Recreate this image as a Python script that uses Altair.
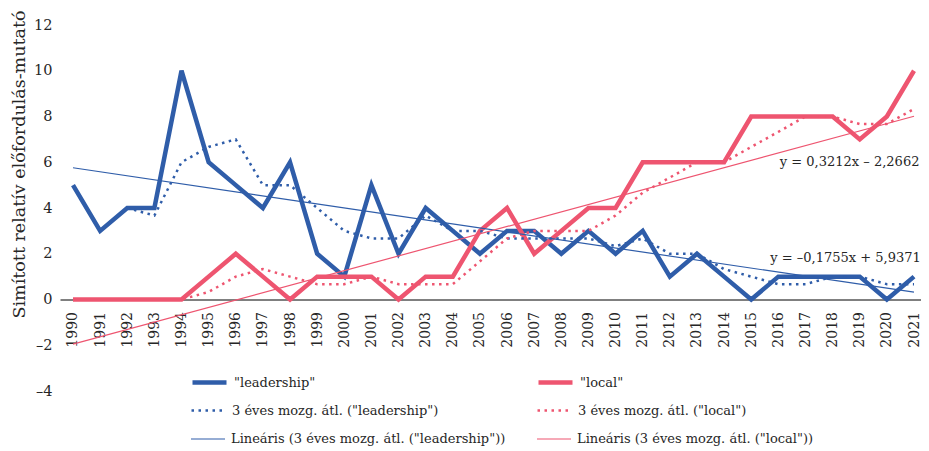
import altair as alt
import pandas as pd

years = list(range(1990, 2022))
ma_years = list(range(1992, 2022))
trend_years = [1990, 2021]

leadership = [5, 3, 4, 4, 10, 6, 5, 4, 6, 2, 1, 5, 2, 4, 3, 2, 3, 3, 2, 3, 2, 3, 1, 2, 1, 0, 1, 1, 1, 1, 0, 1]
local = [0, 0, 0, 0, 0, 1, 2, 1, 0, 1, 1, 1, 0, 1, 1, 3, 4, 2, 3, 4, 4, 6, 6, 6, 6, 8, 8, 8, 8, 7, 8, 10]

leadership_ma = [4, 3.67, 6, 6.67, 7, 5, 5, 4, 3, 2.67, 2.67, 3.67, 3, 3, 2.67, 2.67, 2.67, 2.67, 2.33, 2.67,
                 2, 2, 1.33, 1, 0.67, 0.67, 1, 1, 0.67, 0.67]
local_ma = [0, 0, 0, 0.33, 1, 1.33, 1, 0.67, 0.67, 1, 0.67, 0.67, 0.67, 1.67, 2.67, 3, 3, 3, 3.67, 4.67,
            5.33, 6, 6, 6.67, 7.33, 8, 8, 7.67, 7.67, 8.33]

leadership_trend = [5.76, 0.32]
local_trend = [-1.95, 8.01]

series_names = [
    '"leadership"',
    '"local"',
    '3 éves mozg. átl. ("leadership")',
    '3 éves mozg. átl. ("local")',
    'Lineáris (3 éves mozg. átl. ("leadership"))',
    'Lineáris (3 éves mozg. átl. ("local"))',
]
BLUE = "#2F5DA9"
RED = "#EE5570"
series_colors = [BLUE, RED, BLUE, RED, BLUE, RED]
series_dashes = [None, None, [2.5, 4.5], [2.5, 4.5], None, None]
series_widths = [4.5, 4.5, 2.5, 2.5, 1.2, 1.2]

# legend slot (column, row) for each series
legend_col = [0, 1, 0, 1, 0, 1]
legend_row = [0, 0, 1, 1, 2, 2]

eq_text = ["y = 0,3212x – 2,2662", "y = –0,1755x + 5,9371"]
eq_x = [2021.2, 2021.25]
eq_y = [6.0, 1.8]

y_ticks = [-4, -2, 0, 2, 4, 6, 8, 10, 12]

FONT = "DejaVu Serif"
TXT = "#262626"

x_scale = alt.Scale(domain=[1989.521, 2021.258], nice=False, zero=False)
y_scale = alt.Scale(domain=[-4, 12], nice=False, zero=False)

x_axis = alt.Axis(
    values=years, format="d", title=None, orient="bottom", offset=-91.5,
    labelAngle=270, labelAlign="right", labelBaseline="middle", labelPadding=12,
    ticks=False, grid=False, domainColor="#000000", domainWidth=1,
    labelFont=FONT, labelFontSize=14, labelColor=TXT, labelOverlap=False,
    labelFlush=False, labelBound=False, tickCount=32,
)
y_axis = alt.Axis(
    values=y_ticks, title="Simított relatív előfordulás-mutató",
    labelExpr="datum.value < 0 ? '–' + abs(datum.value) : datum.label",
    ticks=False, grid=False, domain=False, labelPadding=8,
    labelFont=FONT, labelFontSize=14.5, labelColor=TXT,
    titleFont=FONT, titleFontSize=17.5, titleFontWeight="normal", titleColor=TXT,
    titleX=-41, titleY=139, titleAngle=270, titleAlign="center", titleBaseline="middle",
)

series_x = [years, years, ma_years, ma_years, trend_years, trend_years]
series_y = [leadership, local, leadership_ma, local_ma, leadership_trend, local_trend]

LEG_X = [130, 476]
LEG_Y = [338, 367, 396]

layers = []
for i, name in enumerate(series_names):
    d = pd.DataFrame({"year": series_x[i], "value": series_y[i], "series": name})
    mark_kw = dict(strokeWidth=series_widths[i], clip=False)
    leg_kw = dict(
        title=None, orient="none", legendX=LEG_X[legend_col[i]], legendY=LEG_Y[legend_row[i]],
        symbolType="stroke", symbolSize=1156, symbolStrokeWidth=series_widths[i],
        labelFont=FONT, labelFontSize=13, labelColor=TXT, labelLimit=500,
        labelOffset=5, padding=0, symbolOffset=0,
    )
    if series_dashes[i] is not None:
        mark_kw["strokeDash"] = series_dashes[i]
        leg_kw["symbolDash"] = series_dashes[i]
    enc = dict(
        y=alt.Y("value:Q", scale=y_scale, axis=y_axis),
        x=alt.X("year:Q", scale=x_scale, axis=x_axis),
        color=alt.Color("series:N", scale=alt.Scale(domain=[name], range=[series_colors[i]]),
                        legend=alt.Legend(**leg_kw)),
        order=alt.Order("year:Q"),
    )
    layers.append(alt.Chart(d).mark_line(**mark_kw).encode(**enc))

eq_df = pd.DataFrame({"year": eq_x, "value": eq_y, "text": eq_text})
eqs = alt.Chart(eq_df).mark_text(
    align="right", baseline="middle", font=FONT, fontSize=13, color=TXT
).encode(
    x=alt.X("year:Q", scale=x_scale, axis=x_axis),
    y=alt.Y("value:Q", scale=y_scale, axis=y_axis),
    text="text:N",
)
layers.append(eqs)

chart = alt.layer(*layers).resolve_scale(color="independent").resolve_legend(color="independent").properties(
    width=861, height=366,
    autosize=alt.AutoSizeParams(type="none"),
    padding={"left": 52, "top": 17, "right": 0, "bottom": 60},
    view=alt.ViewBackground(stroke=None),
).configure_view(stroke=None).configure(background="white")

chart.save("out.html", embed_options={"renderer": "svg", "actions": False})
